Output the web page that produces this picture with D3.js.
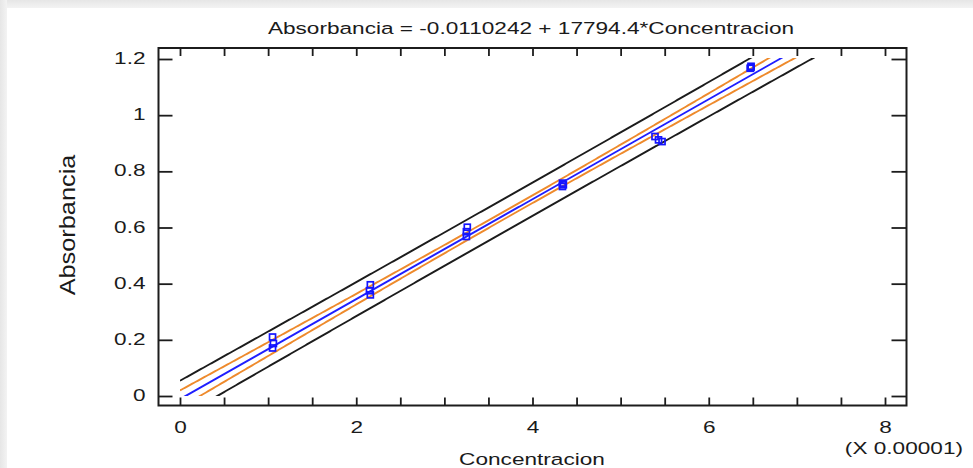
<!DOCTYPE html>
<html>
<head>
<meta charset="utf-8">
<script src="https://cdn.jsdelivr.net/npm/d3@7"></script>
<style>
  html, body { margin: 0; padding: 0; background: #fff; }
  svg { display: block; }
  text { font-family: "Liberation Sans", Arial, sans-serif; fill: #1a1a1a; }
</style>
</head>
<body>
<svg id="chart" width="973" height="468"></svg>
<script>
// Calibration data (concentration in units of 1e-5)
const concentracion = [1.05, 1.06, 1.05, 2.16, 2.15, 2.16, 3.26, 3.25, 3.25, 4.34, 4.35, 4.34, 5.39, 5.43, 5.47, 6.48, 6.48, 6.47];
const absorbancia   = [0.210, 0.187, 0.171, 0.396, 0.375, 0.360, 0.601, 0.585, 0.568, 0.758, 0.752, 0.746, 0.924, 0.912, 0.906, 1.174, 1.170, 1.167];

// Fitted model shown in the title
const intercept = -0.0110242;
const slopePer1e5 = 17794.4 * 1e-5;
const titleText = "Absorbancia = -0.0110242 + 17794.4*Concentracion";

// Axis ticks
const xTicks = [0, 0.5, 1, 1.5, 2, 2.5, 3, 3.5, 4, 4.5, 5, 5.5, 6, 6.5, 7, 7.5, 8];
const xTickLabels = [0, 2, 4, 6, 8];
const yTicks = [0, 0.2, 0.4, 0.6, 0.8, 1, 1.2];

const T_CRIT = 2.1199; // t(0.975, n-2 = 16)

const svg = d3.select("#chart");
const W = 973, H = 468;
const SX = 1.33; // horizontal text stretch

// Page backdrop with a soft shadow along the top and left edges
const defs = svg.append("defs");
const gTop = defs.append("linearGradient").attr("id", "shTop").attr("x1", 0).attr("y1", 0).attr("x2", 0).attr("y2", 1);
gTop.append("stop").attr("offset", "0%").attr("stop-color", "#e6e6e6");
gTop.append("stop").attr("offset", "100%").attr("stop-color", "#f3f3f3");
const gLeft = defs.append("linearGradient").attr("id", "shLeft").attr("x1", 0).attr("y1", 0).attr("x2", 1).attr("y2", 0);
gLeft.append("stop").attr("offset", "0%").attr("stop-color", "#e6e6e6");
gLeft.append("stop").attr("offset", "100%").attr("stop-color", "#f3f3f3");
svg.append("rect").attr("width", W).attr("height", H).attr("fill", "#fff");
svg.append("rect").attr("x", 0).attr("y", 0).attr("width", W).attr("height", 8).attr("fill", "url(#shTop)");
svg.append("rect").attr("x", 0).attr("y", 0).attr("width", 7).attr("height", H).attr("fill", "url(#shLeft)");

// Plot frame
const frame = { left: 158.5, right: 906.5, top: 48, bottom: 405.5 };
const x = d3.scaleLinear().domain([0, 8]).range([180, 885]);
const y = d3.scaleLinear().domain([0, 1.2]).range([396, 59]);

// Regression statistics for confidence / prediction limits around the stated line
const n = concentracion.length;
const fit = c => intercept + slopePer1e5 * c;
const xbar = d3.mean(concentracion);
const sxx = d3.sum(concentracion, c => (c - xbar) ** 2);
const sse = d3.sum(concentracion, (c, i) => (absorbancia[i] - fit(c)) ** 2);
const s = Math.sqrt(sse / (n - 2));
const confHalf = c => T_CRIT * s * Math.sqrt(1 / n + (c - xbar) ** 2 / sxx);
const predHalf = c => T_CRIT * s * Math.sqrt(1 + 1 / n + (c - xbar) ** 2 / sxx);

const grid = d3.range(0, 8.0001, 0.02);
const curves = [
  { f: c => fit(c) + predHalf(c), color: "#1c1c1c" },
  { f: c => fit(c) - predHalf(c), color: "#1c1c1c" },
  { f: c => fit(c) + confHalf(c), color: "#ee8a2c" },
  { f: c => fit(c) - confHalf(c), color: "#ee8a2c" },
  { f: c => fit(c), color: "#1f1fff" }
];

defs.append("clipPath").attr("id", "plotClip").append("rect")
  .attr("x", x(0)).attr("y", y(1.2) - 1)
  .attr("width", x(8) - x(0)).attr("height", y(0) - y(1.2) + 1);

const line = d3.line();
const curveLayer = svg.append("g").attr("clip-path", "url(#plotClip)");
curves.forEach(cv => {
  curveLayer.append("path")
    .attr("d", line(grid.map(c => [x(c), y(cv.f(c))])))
    .attr("fill", "none")
    .attr("stroke", cv.color)
    .attr("stroke-width", 1.9);
});

// Observations
svg.append("g").selectAll("rect")
  .data(concentracion.map((c, i) => [c, absorbancia[i]]))
  .join("rect")
  .attr("x", d => x(d[0]) - 3)
  .attr("y", d => y(d[1]) - 3)
  .attr("width", 6).attr("height", 6)
  .attr("fill", "none")
  .attr("stroke", "#1414ff")
  .attr("stroke-width", 1.7);

// Axes with inward ticks
function styleAxis(g) {
  g.select(".domain").remove();
  g.selectAll(".tick line").attr("stroke", "#1c1c1c").attr("stroke-width", 1.8);
}

const fmtY = d3.format("~g");

svg.append("g")
  .attr("transform", `translate(0,${frame.bottom})`)
  .call(d3.axisBottom(x).tickValues(xTicks).tickSize(-8)
    .tickFormat(d => xTickLabels.includes(d) ? String(d) : ""))
  .call(styleAxis)
  .call(g => g.selectAll(".tick text")
    .attr("y", null).attr("dy", null)
    .attr("font-size", 17).attr("font-family", null)
    .attr("fill", "#1a1a1a")
    .attr("transform", `translate(0,27.5) scale(${SX},1)`));

svg.append("g")
  .attr("transform", `translate(0,${frame.top})`)
  .call(d3.axisTop(x).tickValues(xTicks).tickSize(-8).tickFormat(""))
  .call(styleAxis);

svg.append("g")
  .attr("transform", `translate(${frame.left},0)`)
  .call(d3.axisLeft(y).tickValues(yTicks).tickSize(-14).tickFormat(fmtY))
  .call(styleAxis)
  .call(g => g.selectAll(".tick text")
    .attr("x", null).attr("dy", null)
    .attr("font-size", 17).attr("font-family", null)
    .attr("fill", "#1a1a1a")
    .attr("transform", `translate(-13,4.5) scale(${SX},1)`));

svg.append("g")
  .attr("transform", `translate(${frame.right},0)`)
  .call(d3.axisRight(y).tickValues(yTicks).tickSize(-15).tickFormat(""))
  .call(styleAxis);

svg.append("rect")
  .attr("x", frame.left).attr("y", frame.top)
  .attr("width", frame.right - frame.left).attr("height", frame.bottom - frame.top)
  .attr("fill", "none").attr("stroke", "#1c1c1c").attr("stroke-width", 2);

// Titles
function stretched(str, tx, ty, anchor) {
  return svg.append("text")
    .attr("transform", `translate(${tx},${ty}) scale(${SX},1)`)
    .attr("text-anchor", anchor)
    .attr("font-size", 17)
    .text(str);
}
stretched(titleText, 531, 34, "middle");
stretched("Concentracion", 532, 465, "middle");
stretched("(X 0.00001)", 963, 454, "end");

svg.append("text")
  .attr("transform", "translate(75,225) rotate(-90) scale(1.49,1.3)")
  .attr("text-anchor", "middle")
  .attr("font-size", 17)
  .text("Absorbancia");
</script>
</body>
</html>
